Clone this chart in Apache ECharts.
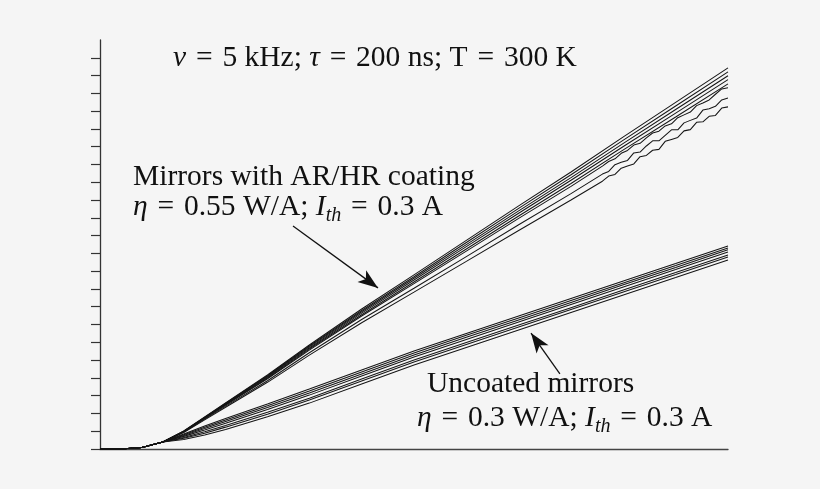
<!DOCTYPE html>
<html>
<head>
<meta charset="utf-8">
<script src="https://cdn.jsdelivr.net/npm/echarts@6/dist/echarts.min.js"></script>
<style>
html,body{margin:0;padding:0;background:#f5f5f5;}
#c{width:820px;height:489px;}
</style>
</head>
<body>
<div id="c"></div>
<script>
// Current (A) sample points
const xs = [0, 0.1, 0.2, 0.3, 0.4, 0.5, 0.6, 0.8, 1.0, 1.25, 1.5, 1.75, 2.0, 2.25, 2.5, 2.75, 3.0];

// Mirrors with AR/HR coating (W)
const coated1 = [0, 0, 0.008, 0.039, 0.101, 0.180, 0.259, 0.416, 0.585, 0.787, 0.979, 1.173, 1.367, 1.558, 1.755, 1.949, 2.143];
const coated2 = [0, 0, 0.008, 0.039, 0.100, 0.178, 0.257, 0.412, 0.579, 0.779, 0.969, 1.161, 1.353, 1.542, 1.737, 1.929, 2.121];
const coated3 = [0, 0, 0.008, 0.039, 0.099, 0.177, 0.254, 0.408, 0.574, 0.772, 0.960, 1.149, 1.339, 1.526, 1.719, 1.909, 2.099];
const coated4 = [0, 0, 0.008, 0.039, 0.099, 0.175, 0.252, 0.404, 0.568, 0.764, 0.950, 1.138, 1.326, 1.511, 1.701, 1.889, 2.077];
const coated5 = [0, 0, 0.008, 0.039, 0.098, 0.173, 0.249, 0.399, 0.562, 0.755, 0.939, 1.125, 1.310, 1.493, 1.682, 1.867, 2.053];
const coated6 = [0, 0, 0.008, 0.039, 0.097, 0.172, 0.247, 0.395, 0.556, 0.748, 0.930, 1.113, 1.297, 1.477, 1.664, 1.848, 2.031];
const coated7 = [0, 0, 0.008, 0.039, 0.095, 0.168, 0.241, 0.384, 0.541, 0.728, 0.904, 1.082, 1.261, 1.436, 1.617, 1.796, 1.974];
const coated8 = [0, 0, 0.008, 0.039, 0.093, 0.164, 0.235, 0.375, 0.528, 0.710, 0.882, 1.055, 1.229, 1.400, 1.576, 1.750, 1.924];

// noisy high-current part of three coated curves
const jagX = [2.4, 2.43, 2.46, 2.49, 2.52, 2.55, 2.58, 2.61, 2.64, 2.67, 2.70, 2.73, 2.76, 2.79, 2.82, 2.85, 2.88, 2.91, 2.94, 2.97, 3.0];
const coated6Jag = [1.591, 1.617, 1.632, 1.663, 1.679, 1.709, 1.719, 1.750, 1.777, 1.787, 1.817, 1.829, 1.863, 1.879, 1.895, 1.931, 1.946, 1.963, 1.995, 2.025, 2.031];
const coated7Jag = [1.546, 1.561, 1.599, 1.612, 1.623, 1.665, 1.670, 1.704, 1.733, 1.733, 1.764, 1.795, 1.795, 1.834, 1.848, 1.861, 1.906, 1.914, 1.927, 1.963, 1.974];
const coated8Jag = [1.506, 1.535, 1.544, 1.579, 1.592, 1.603, 1.644, 1.651, 1.680, 1.685, 1.730, 1.741, 1.752, 1.789, 1.796, 1.837, 1.840, 1.871, 1.876, 1.917, 1.924];

// Uncoated mirrors (W)
const uncoated1 = [0, 0, 0.008, 0.039, 0.084, 0.129, 0.172, 0.253, 0.337, 0.444, 0.551, 0.650, 0.748, 0.846, 0.945, 1.043, 1.142];
const uncoated2 = [0, 0, 0.008, 0.039, 0.080, 0.122, 0.163, 0.243, 0.326, 0.433, 0.540, 0.639, 0.737, 0.835, 0.934, 1.032, 1.131];
const uncoated3 = [0, 0, 0.008, 0.039, 0.076, 0.115, 0.155, 0.233, 0.315, 0.422, 0.529, 0.628, 0.726, 0.824, 0.923, 1.021, 1.120];
const uncoated4 = [0, 0, 0.008, 0.039, 0.071, 0.107, 0.145, 0.222, 0.303, 0.410, 0.517, 0.616, 0.714, 0.812, 0.911, 1.009, 1.108];
const uncoated5 = [0, 0, 0.008, 0.039, 0.065, 0.097, 0.132, 0.207, 0.286, 0.393, 0.500, 0.599, 0.697, 0.795, 0.894, 0.992, 1.091];
const uncoated6 = [0, 0, 0.008, 0.039, 0.060, 0.089, 0.123, 0.196, 0.275, 0.382, 0.489, 0.588, 0.686, 0.784, 0.883, 0.981, 1.080];
const uncoated7 = [0, 0, 0.008, 0.039, 0.054, 0.079, 0.110, 0.181, 0.258, 0.365, 0.472, 0.571, 0.669, 0.767, 0.866, 0.964, 1.063];

// y-axis tick positions (no labels shown)
const yTicks = [0, 0.1, 0.2, 0.3, 0.4, 0.5, 0.6, 0.7, 0.8, 0.9, 1.0, 1.1, 1.2, 1.3, 1.4, 1.5, 1.6, 1.7, 1.8, 1.9, 2.0, 2.1, 2.2];

// annotation arrows [tail, tip] in data coordinates
const arrowCoated = [[0.922, 1.254], [1.328, 0.906]];
const arrowUncoated = [[2.197, 0.422], [2.059, 0.652]];

function pairs(xa, ya) { return xa.map((x, i) => [x, ya[i]]); }
function jagged(base, jx, jy) {
  const head = pairs(xs, base).filter(p => p[0] < jx[0]);
  return head.concat(pairs(jx, jy));
}

const curves = [
  pairs(xs, coated1), pairs(xs, coated2), pairs(xs, coated3), pairs(xs, coated4), pairs(xs, coated5),
  jagged(coated6, jagX, coated6Jag), jagged(coated7, jagX, coated7Jag), jagged(coated8, jagX, coated8Jag),
  pairs(xs, uncoated1), pairs(xs, uncoated2), pairs(xs, uncoated3), pairs(xs, uncoated4),
  pairs(xs, uncoated5), pairs(xs, uncoated6), pairs(xs, uncoated7)
];

const FONT = '"Liberation Serif", "DejaVu Serif", serif';
const series = curves.map((d, i) => ({
  type: 'line', data: d, showSymbol: false, silent: true,
  lineStyle: { color: '#151515', width: 1.05 },
  emphasis: { disabled: true }
}));
series[0].markLine = {
  silent: true, symbol: ['none', 'arrow'], symbolSize: [11, 20], precision: 4,
  label: { show: false }, emphasis: { disabled: true },
  lineStyle: { color: '#111', width: 1.3, type: 'solid' },
  data: [
    [{ coord: arrowCoated[0] }, { coord: arrowCoated[1] }],
    [{ coord: arrowUncoated[0] }, { coord: arrowUncoated[1] }]
  ]
};

const FS = 29.5;
const base = { fontFamily: FONT, fontSize: FS, fill: '#111', lineHeight: 34 };
const rich = {
  i: { fontFamily: FONT, fontSize: FS, fontStyle: 'italic', lineHeight: 34 },
  s: { fontFamily: FONT, fontSize: 20, fontStyle: 'italic', lineHeight: 16, padding: [18, 0, 0, 0] }
};
const EQ = '\u200A=\u200A';
function txt(x, y, t) {
  return { type: 'text', x: x, y: y, silent: true,
    style: Object.assign({ text: t, rich: rich, verticalAlign: 'middle', align: 'left' }, base) };
}

const chart = echarts.init(document.getElementById('c'), null, { renderer: 'canvas' });
chart.setOption({
  backgroundColor: '#f5f5f5',
  animation: false,
  grid: { left: 100, right: 92, top: 40, bottom: 40 },
  xAxis: {
    type: 'value', min: 0, max: 3.0,
    axisLine: { show: true, lineStyle: { color: '#444', width: 1.3 } },
    axisTick: { show: false }, axisLabel: { show: false }, splitLine: { show: false }
  },
  yAxis: {
    type: 'value', min: 0, max: 2.3,
    axisLine: { show: true, lineStyle: { color: '#333', width: 1.3 } },
    axisTick: { show: true, length: 9, inside: false, customValues: yTicks, lineStyle: { color: '#333', width: 1.2 } },
    axisLabel: { show: false }, splitLine: { show: false }
  },
  series: series,
  graphic: [
    txt(173, 58, '{i|ν} ' + EQ + ' 5 kHz; {i|τ} ' + EQ + ' 200 ns; T ' + EQ + ' 300 K'),
    txt(133, 177, 'Mirrors with AR/HR coating'),
    txt(133, 207, '{i|η} ' + EQ + ' 0.55 W/A; {i|I}{s|th} ' + EQ + ' 0.3 A'),
    txt(427, 384, 'Uncoated mirrors'),
    txt(417, 418, '{i|η} ' + EQ + ' 0.3 W/A; {i|I}{s|th} ' + EQ + ' 0.3 A')
  ]
});
</script>
</body>
</html>
